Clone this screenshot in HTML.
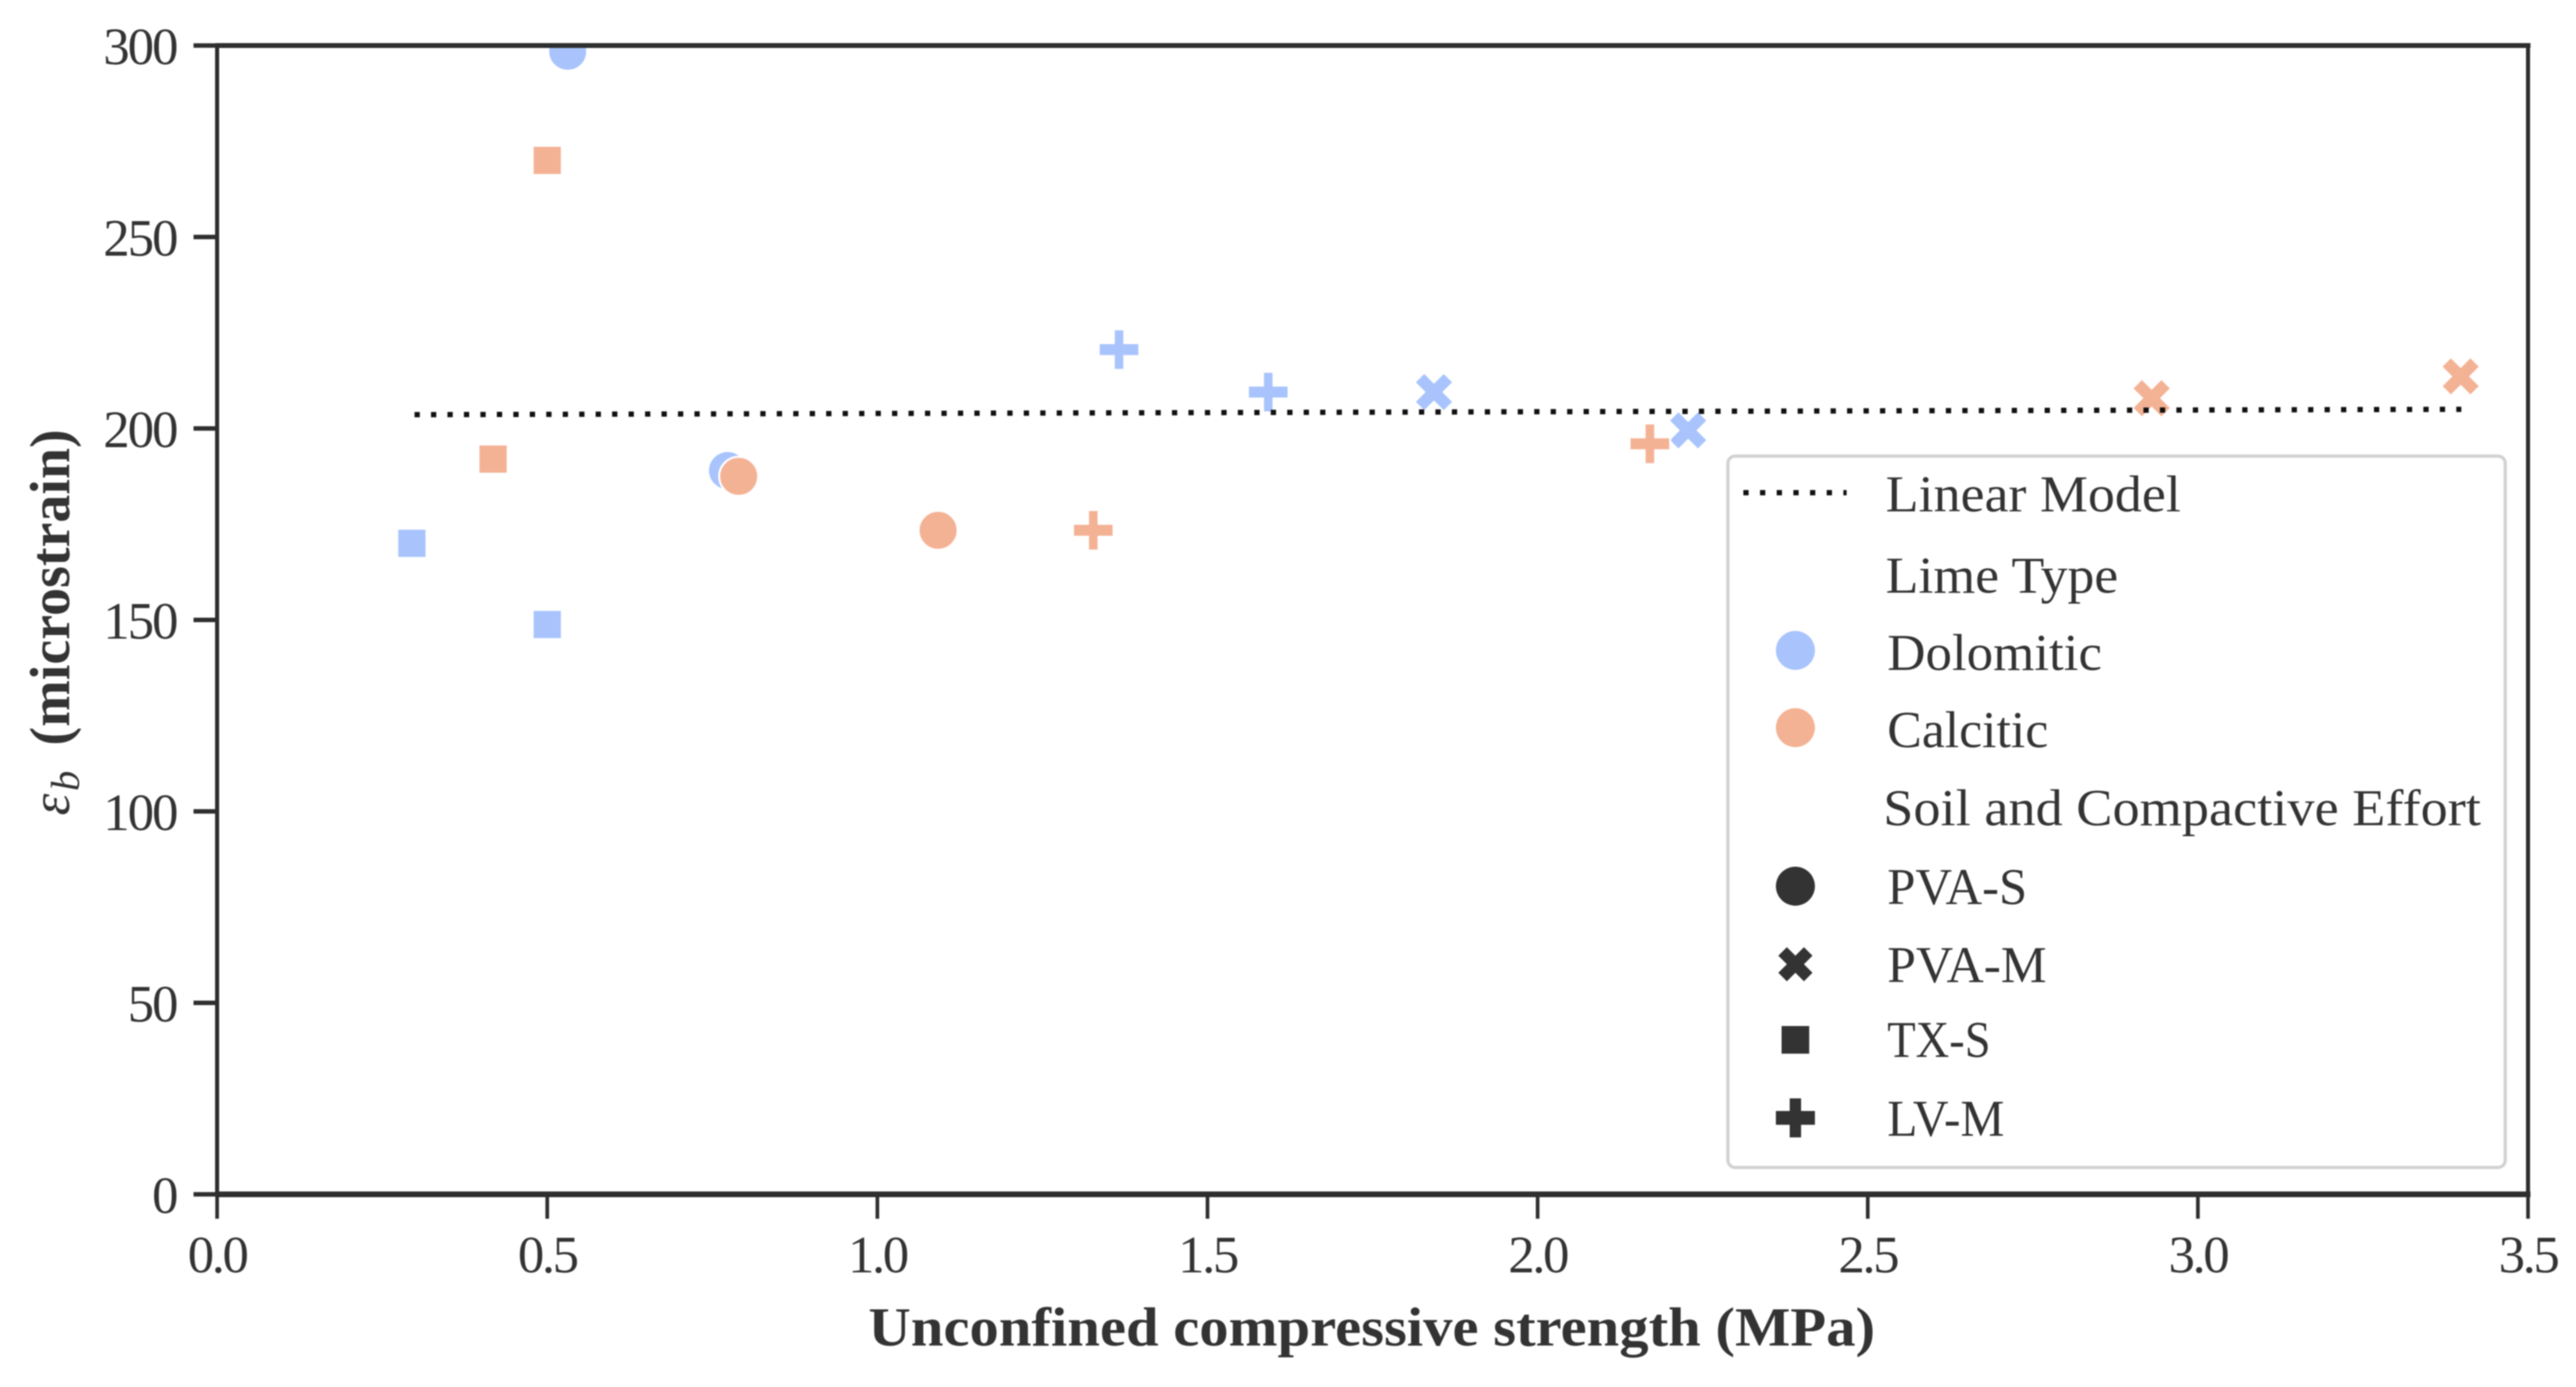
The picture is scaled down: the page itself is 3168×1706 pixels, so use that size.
<!DOCTYPE html>
<html lang="en">
<head>
<meta charset="utf-8">
<title>Flexural strain vs unconfined compressive strength</title>
<style>
  html, body { margin: 0; padding: 0; background: #fff; }
  body { width: 3168px; height: 1706px; overflow: hidden; }
  svg { display: block; filter: blur(0.9px); }
  text { font-family: "Liberation Serif", "DejaVu Serif", serif; fill: #333; }
</style>
</head>
<body>
<svg id="chart" xmlns="http://www.w3.org/2000/svg" width="3168" height="1706" viewBox="0 0 3168 1706">
  <rect x="0" y="0" width="3168" height="1706" fill="#fff"/>
  <defs>
    <clipPath id="plot-clip"><rect x="267" y="56" width="2842" height="1413"/></clipPath>
  </defs>
  <g id="marks" clip-path="url(#plot-clip)"></g>
  <g id="model"></g>
  <g id="axes"></g>

  <text x="1687" y="1655" text-anchor="middle" font-size="68" font-weight="bold" textLength="1238" lengthAdjust="spacingAndGlyphs">Unconfined compressive strength (MPa)</text>
  <text transform="translate(85 1003) rotate(-90)" font-size="70"><tspan x="0" y="0" font-style="italic" font-size="68">ε</tspan><tspan x="30" y="12" font-style="italic" font-size="50">b</tspan><tspan x="86" y="0" font-weight="bold" textLength="389" lengthAdjust="spacingAndGlyphs">(microstrain)</tspan></text>

  <g>
    <rect x="2125" y="561" width="956" height="875" rx="9" ry="9" fill="#fff" fill-opacity="0.85" stroke="#d2d2d2" stroke-width="4"/>
    <line x1="2144" y1="606" x2="2271" y2="606" stroke="#111" stroke-width="6.5" stroke-dasharray="6.5 14"/>
    <text x="2319" y="629" font-size="64" textLength="363" lengthAdjust="spacingAndGlyphs">Linear Model</text>
    <text x="2319" y="729" font-size="64" textLength="286" lengthAdjust="spacingAndGlyphs">Lime Type</text>
    <circle cx="2208" cy="800" r="24" fill="#a9c4fc"/>
    <text x="2321" y="824" font-size="64" textLength="264" lengthAdjust="spacingAndGlyphs">Dolomitic</text>
    <circle cx="2208" cy="895" r="24" fill="#f4b295"/>
    <text x="2321" y="919" font-size="64" textLength="198" lengthAdjust="spacingAndGlyphs">Calcitic</text>
    <text x="2316" y="1015" font-size="64" textLength="735" lengthAdjust="spacingAndGlyphs">Soil and Compactive Effort</text>
    <circle cx="2208" cy="1090" r="24" fill="#333"/>
    <text x="2321" y="1112" font-size="64" textLength="172" lengthAdjust="spacingAndGlyphs">PVA-S</text>
    <polygon fill="#333" points="2197.5,1165 2208,1175.5 2218.5,1165 2229,1175.5 2218.5,1186 2229,1196.5 2218.5,1207 2208,1196.5 2197.5,1207 2187,1196.5 2197.5,1186 2187,1175.5"/>
    <text x="2321" y="1208" font-size="64" textLength="196" lengthAdjust="spacingAndGlyphs">PVA-M</text>
    <rect x="2191" y="1262" width="34" height="34" fill="#333"/>
    <text x="2321" y="1300" font-size="64" textLength="127" lengthAdjust="spacingAndGlyphs">TX-S</text>
    <polygon fill="#333" points="2201,1351 2215,1351 2215,1366.5 2232,1366.5 2232,1383.5 2215,1383.5 2215,1399 2201,1399 2201,1383.5 2184,1383.5 2184,1366.5 2201,1366.5"/>
    <text x="2321" y="1397" font-size="64" textLength="144" lengthAdjust="spacingAndGlyphs">LV-M</text>
  </g>
</svg>
<script>
// Chart data
const limeTypes = ['Dolomitic','Dolomitic','Dolomitic','Dolomitic','Dolomitic','Dolomitic','Dolomitic','Dolomitic','Calcitic','Calcitic','Calcitic','Calcitic','Calcitic','Calcitic','Calcitic','Calcitic'];
const soilTypes = ['PVA-S','PVA-S','TX-S','TX-S','LV-M','LV-M','PVA-M','PVA-M','PVA-S','PVA-S','TX-S','TX-S','LV-M','LV-M','PVA-M','PVA-M'];
const ucsValues = [0.531,0.773,0.295,0.5,1.366,1.592,1.843,2.228,0.79,1.092,0.418,0.5,1.327,2.17,2.93,3.398];
const strainValues = [298.5,189,170,148.8,220.6,209.5,209.5,199.5,187.5,173.4,192,270,173.4,196,207.9,213.6];
const modelX = [0.299,3.399];
const modelY = [203.6,205];
const xTickValues = [0,0.5,1,1.5,2,2.5,3,3.5];
const xTickLabels = ['0.0','0.5','1.0','1.5','2.0','2.5','3.0','3.5'];
const yTickValues = [0,50,100,150,200,250,300];
const yTickLabels = ['0','50','100','150','200','250','300'];

const SVG_NS = 'http://www.w3.org/2000/svg';
const plot = { left: 267, right: 3109, top: 56, bottom: 1469 };
const xDomain = [0, 3.5];
const yDomain = [0, 300];
const limeColor = { Dolomitic: '#a9c4fc', Calcitic: '#f4b295' };

function xScale(v) {
  return plot.left + (v - xDomain[0]) / (xDomain[1] - xDomain[0]) * (plot.right - plot.left);
}
function yScale(v) {
  return plot.bottom - (v - yDomain[0]) / (yDomain[1] - yDomain[0]) * (plot.bottom - plot.top);
}
function make(tag, attrs) {
  const el = document.createElementNS(SVG_NS, tag);
  Object.keys(attrs).forEach(function (k) { el.setAttribute(k, attrs[k]); });
  return el;
}
function polygonPoints(cx, cy, unit, shape) {
  return shape.map(function (p) { return (cx + p[0] * unit) + ',' + (cy + p[1] * unit); }).join(' ');
}
const X_SHAPE = [[-1,-2],[0,-1],[1,-2],[2,-1],[1,0],[2,1],[1,2],[0,1],[-1,2],[-2,1],[-1,0],[-2,-1]];
const PLUS_SHAPE = [[-6.5,-25],[6.5,-25],[6.5,-8],[25,-8],[25,8],[6.5,8],[6.5,25],[-6.5,25],[-6.5,8],[-25,8],[-25,-8],[-6.5,-8]];

const marksGroup = document.getElementById('marks');
ucsValues.forEach(function (u, i) {
  const cx = xScale(u);
  const cy = yScale(strainValues[i]);
  const soil = soilTypes[i];
  const style = { fill: limeColor[limeTypes[i]], stroke: '#fff', 'stroke-width': 2.5 };
  let mark;
  if (soil === 'PVA-S') {
    mark = make('circle', Object.assign({ cx: cx, cy: cy, r: 24 }, style));
  } else if (soil === 'TX-S') {
    mark = make('rect', Object.assign({ x: cx - 18, y: cy - 18, width: 36, height: 36 }, style));
  } else if (soil === 'PVA-M') {
    mark = make('polygon', Object.assign({ points: polygonPoints(cx, cy, 12, X_SHAPE) }, style));
  } else {
    mark = make('polygon', Object.assign({ points: polygonPoints(cx, cy, 1, PLUS_SHAPE) }, style));
  }
  
  
  marksGroup.appendChild(mark);
});

const modelLine = make('line', {
  x1: xScale(modelX[0]), y1: yScale(modelY[0]),
  x2: xScale(modelX[1]), y2: yScale(modelY[1]),
  stroke: '#111', 'stroke-width': 6.5, 'stroke-dasharray': '6.5 13.75'
});


document.getElementById('model').appendChild(modelLine);

const axesGroup = document.getElementById('axes');
const spineSpecs = [
  ['spine-top', plot.left - 2, plot.top, plot.right + 3, plot.top, 6],
  ['spine-right', plot.right, plot.top, plot.right, plot.bottom, 5],
  ['spine-left', plot.left, plot.top, plot.left, plot.bottom, 5],
  ['spine-bottom', plot.left - 2, plot.bottom, plot.right + 3, plot.bottom, 7]
];
spineSpecs.forEach(function (s) {
  const spine = make('line', { x1: s[1], y1: s[2], x2: s[3], y2: s[4], stroke: '#2e2e2e', 'stroke-width': s[5] });
  
  
  axesGroup.appendChild(spine);
});

xTickValues.forEach(function (v, i) {
  const x = xScale(v);
  const tick = make('line', { x1: x, y1: plot.bottom, x2: x, y2: plot.bottom + 30, stroke: '#2e2e2e', 'stroke-width': 4.5 });
  
  
  axesGroup.appendChild(tick);
  const label = make('text', { x: x, y: 1565, 'text-anchor': 'middle', 'font-size': 65, 'letter-spacing': -3 });
  
  
  label.textContent = xTickLabels[i];
  axesGroup.appendChild(label);
});

yTickValues.forEach(function (v, i) {
  const y = yScale(v);
  const tick = make('line', { x1: plot.left - 29, y1: y, x2: plot.left, y2: y, stroke: '#2e2e2e', 'stroke-width': 5.5 });
  
  
  axesGroup.appendChild(tick);
  const label = make('text', { x: 217, y: y + 23, 'text-anchor': 'end', 'font-size': 65, 'letter-spacing': -2.5 });
  
  
  label.textContent = yTickLabels[i];
  axesGroup.appendChild(label);
});
</script>
</body>
</html>
